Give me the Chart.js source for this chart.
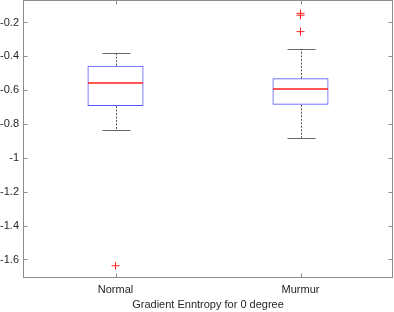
<!DOCTYPE html>
<html><head><meta charset="utf-8">
<script src="https://cdn.jsdelivr.net/npm/chart.js@4"></script>
<style>html,body{margin:0;padding:0;background:#fff}#wrap{width:394px;height:312px}</style>
</head><body><div id="wrap"><canvas id="c" width="394" height="312"></canvas></div>
<script>
const categories = ['Normal', 'Murmur'];
const whiskerLow = [-0.833, -0.884];
const q1 = [-0.693, -0.686];
const medians = [-0.557, -0.593];
const q3 = [-0.455, -0.530];
const whiskerHigh = [-0.378, -0.355];
const normalOutliers = [-1.637];
const murmurOutliers = [-0.146, -0.157, -0.254];
const yTicks = [-1.6, -1.4, -1.2, -1, -0.8, -0.6, -0.4, -0.2];
const yMin = -1.7093, yMax = -0.0671;
const xTitle = 'Gradient Enntropy for 0 degree';

const FONT = 'Liberation Sans, Arial, Helvetica, sans-serif';
const AXIS = '#8c8c8c';

const boxPlugin = {
  id: 'boxParts',
  afterDatasetsDraw(chart) {
    const ctx = chart.ctx, y = chart.scales.y;
    const meta = chart.getDatasetMeta(0);
    ctx.save();
    meta.data.forEach((bar, i) => {
      const cx = Math.round(bar.x) + 0.5;
      const hw = bar.width / 2;
      const yq1 = y.getPixelForValue(q1[i]), yq3 = y.getPixelForValue(q3[i]);
      const ylo = Math.round(y.getPixelForValue(whiskerLow[i])) + 0.5;
      const yhi = Math.round(y.getPixelForValue(whiskerHigh[i])) + 0.5;
      ctx.globalAlpha = 1;
      ctx.strokeStyle = '#555555';
      ctx.lineWidth = 1;
      ctx.setLineDash([2, 1.5]);
      ctx.beginPath();
      ctx.moveTo(cx, yq3); ctx.lineTo(cx, yhi);
      ctx.moveTo(cx, yq1); ctx.lineTo(cx, ylo);
      ctx.stroke();
      ctx.setLineDash([]);
      ctx.strokeStyle = '#666666';
      ctx.beginPath();
      ctx.moveTo(cx - hw / 2, yhi); ctx.lineTo(cx + hw / 2, yhi);
      ctx.moveTo(cx - hw / 2, ylo); ctx.lineTo(cx + hw / 2, ylo);
      ctx.stroke();
    });
    meta.data.forEach((bar, i) => {
      const hw = bar.width / 2;
      const ym = Math.round(y.getPixelForValue(medians[i]));
      ctx.setLineDash([]);
      ctx.strokeStyle = 'rgba(255,30,30,0.75)';
      ctx.lineWidth = 2;
      ctx.beginPath();
      ctx.moveTo(bar.x - hw + 0.5, ym); ctx.lineTo(bar.x + hw - 0.5, ym);
      ctx.stroke();
    });
    ctx.restore();
  },
  afterDraw(chart) {
    const ctx = chart.ctx, a = chart.chartArea, y = chart.scales.y, x = chart.scales.x;
    const L = Math.round(a.left) + 0.5, R = Math.round(a.right) - 0.5;
    const T = Math.round(a.top) + 0.5, B = Math.round(a.bottom) - 0.5;
    ctx.save();
    ctx.setLineDash([]);
    ctx.strokeStyle = AXIS;
    ctx.lineWidth = 1;
    ctx.strokeRect(L, T, R - L, B - T);
    ctx.beginPath();
    const tl = 4;
    yTicks.forEach(v => {
      const py = Math.round(y.getPixelForValue(v)) + 0.5;
      ctx.moveTo(L, py); ctx.lineTo(L + tl, py);
      ctx.moveTo(R, py); ctx.lineTo(R - tl, py);
    });
    categories.forEach((c, i) => {
      const px = Math.round(x.getPixelForValue(i)) + 0.5;
      ctx.moveTo(px, B); ctx.lineTo(px, B - tl);
      ctx.moveTo(px, T); ctx.lineTo(px, T + tl);
    });
    ctx.stroke();
    ctx.restore();
  }
};

const outlierPts = [];
normalOutliers.forEach(v => outlierPts.push({ x: categories[0], y: v }));
murmurOutliers.forEach(v => outlierPts.push({ x: categories[1], y: v }));

function noPad(s) { s.paddingTop = 0; s.paddingBottom = 0; s.paddingLeft = 0; s.paddingRight = 0; }

new Chart(document.getElementById('c'), {
  type: 'bar',
  data: {
    labels: categories,
    datasets: [{
      type: 'bar',
      data: categories.map((c, i) => [q1[i], q3[i]]),
      backgroundColor: 'rgba(0,0,0,0)',
      borderColor: 'rgba(40,40,255,0.8)',
      borderWidth: 1,
      borderSkipped: false,
      barPercentage: 0.303,
      categoryPercentage: 1,
      order: 2
    }, {
      type: 'scatter',
      data: outlierPts,
      pointStyle: 'cross',
      radius: 4,
      borderColor: '#ff2020',
      borderWidth: 1,
      order: 1
    }]
  },
  options: {
    responsive: false,
    animation: false,
    events: [],
    layout: { autoPadding: false, padding: { left: 0, right: 1, top: 0, bottom: 0 } },
    plugins: { legend: { display: false }, tooltip: { enabled: false } },
    scales: {
      x: {
        type: 'category',
        offset: true,
        grid: { display: false, drawTicks: false, tickLength: 0 },
        border: { display: false },
        ticks: { color: '#262626', font: { family: FONT, size: 11 }, padding: 5, maxRotation: 0 },
        title: { display: true, text: xTitle, color: '#262626', font: { family: FONT, size: 11 }, padding: { top: 0, bottom: 0 } },
        afterFit(s) { s.height = 34; noPad(s); }
      },
      y: {
        type: 'linear',
        min: yMin, max: yMax,
        grid: { display: false, drawTicks: false, tickLength: 0 },
        border: { display: false },
        afterBuildTicks(s) { s.ticks = yTicks.map(v => ({ value: v })); },
        ticks: { color: '#262626', font: { family: FONT, size: 11 }, padding: 4, callback: v => String(Math.round(v * 10) / 10) },
        afterFit(s) { s.width = 23; noPad(s); }
      }
    }
  },
  plugins: [boxPlugin]
});
</script></body></html>
